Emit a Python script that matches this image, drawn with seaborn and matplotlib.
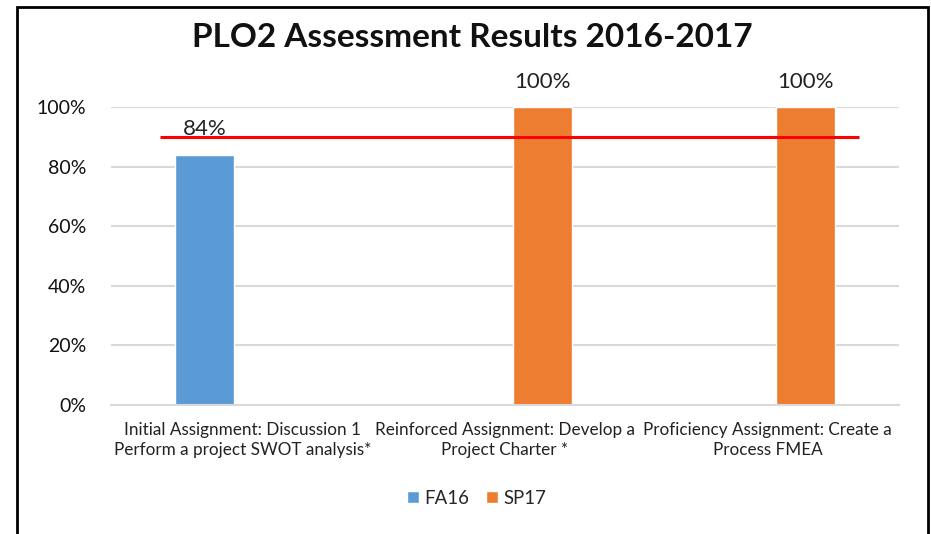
import numpy as np
import pandas as pd
import seaborn as sns
import matplotlib.pyplot as plt
from matplotlib.patches import Rectangle

# data
categories = ["Initial Assignment: Discussion 1\nPerform a project SWOT analysis*",
              "Reinforced Assignment: Develop a\nProject Charter *",
              "Proficiency Assignment: Create a\nProcess FMEA"]
fa16 = [0.84, np.nan, np.nan]
sp17 = [np.nan, 1.00, 1.00]
terms = ["FA16", "SP17"]
target = 0.90
yticks = [0, 0.2, 0.4, 0.6, 0.8, 1.0]

df = pd.DataFrame({"Assignment": categories * 2,
                   "Term": ["FA16"] * 3 + ["SP17"] * 3,
                   "Score": fa16 + sp17})

sns.set_style("white")
plt.rcParams["font.family"] = ["Lato", "DejaVu Sans"]

fig = plt.figure(figsize=(9.31, 5.34), dpi=100)
ax = fig.add_axes([0.1192, 0.2416, 0.8464, 0.558])

sns.barplot(data=df, x="Assignment", y="Score", hue="Term", hue_order=terms,
            order=categories, palette=["#5B9BD5", "#ED7D31"], saturation=1,
            width=0.57, gap=0.21, ax=ax, legend=True)

for c in ax.containers:
    ax.bar_label(c, fmt=lambda v: f"{v:.0%}", padding=11, fontsize=16, color="#222222")

# target line
ax.hlines(target, -0.313, 2.348, color="#FF0000", lw=2.2, zorder=5)

ax.set_ylim(0, 1)
ax.set_xlim(-0.5, 2.5)
ax.set_yticks(yticks)
ax.set_yticklabels([f"{t:.0%}" for t in yticks], fontsize=14, color="#111111")
ax.tick_params(axis="x", labelsize=12.3, labelcolor="#222222", pad=12, length=0)
for lbl in ax.get_xticklabels():
    lbl.set_linespacing(1.3)
ax.tick_params(axis="y", pad=18, length=0)
ax.set_xlabel("")
ax.set_ylabel("")
ax.yaxis.grid(True, color="#D9D9D9", lw=1.5)
ax.set_axisbelow(True)
sns.despine(ax=ax, left=True)
ax.spines["bottom"].set_color("#D9D9D9")
ax.spines["bottom"].set_linewidth(1.5)

handles, labels = ax.get_legend_handles_labels()
ax.legend_.remove()
fig.legend(handles, labels, loc="center", bbox_to_anchor=(0.512, 0.0674), ncol=2,
           frameon=False, fontsize=13.4, handlelength=0.65, handleheight=0.65,
           handletextpad=0.3, columnspacing=0.9)

fig.text(0.5075, 1 - 37 / 534, "PLO2 Assessment Results 2016-2017",
         ha="center", va="center", fontsize=24, fontweight="bold", color="#111111")

# chart frame
fig.patches.append(Rectangle((17 / 931, -0.1), (928 - 17) / 931, 1.1 - 7 / 534,
                             transform=fig.transFigure, fill=False,
                             edgecolor="black", lw=2, clip_on=False))

fig.savefig("out.png", dpi=100)
